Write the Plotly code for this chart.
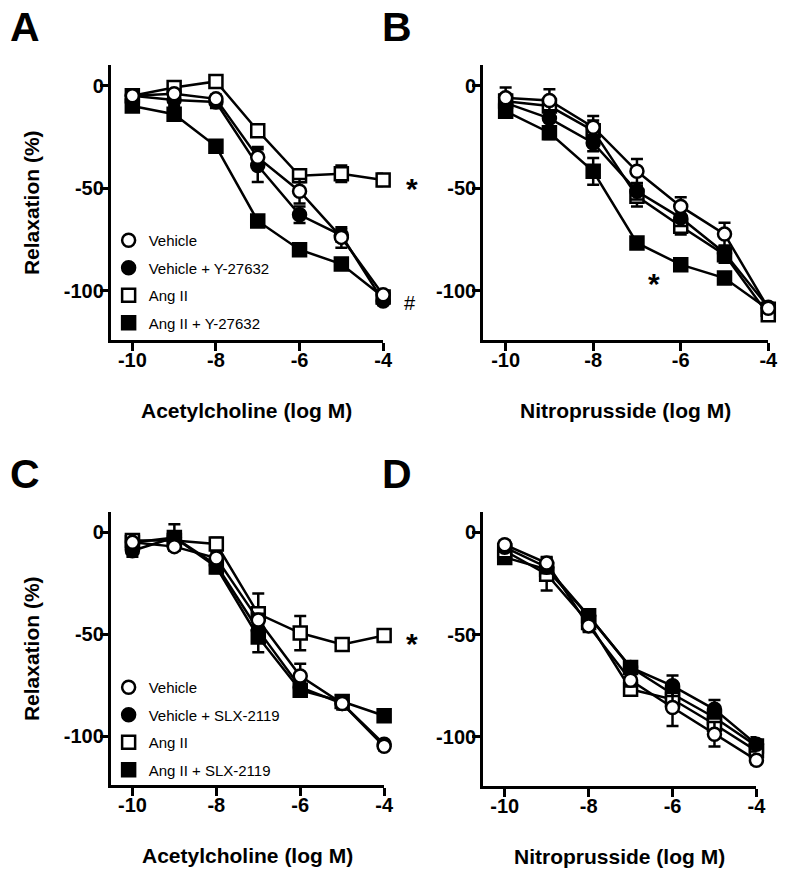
import plotly.graph_objects as go

# ---------------- data ----------------
log_conc = [-10, -9, -8, -7, -6, -5, -4]
x_tick_vals = [-10, -8, -6, -4]
x_tick_text = ["-10", "-8", "-6", "-4"]
y_tick_vals = [0, -50, -100]
y_tick_text = ["0", "-50", "-100"]

# Panel A: Acetylcholine, Y-27632
a_vehicle = [-5, -4, -6.5, -35, -51.5, -74, -102]
a_vehicle_err = [2, 2, 2, 5, 6, 5, 2]
a_vehicle_y = [-5, -7, -8, -39, -63, -73, -105]
a_vehicle_y_err = [2, 3, 3, 8, 4, 3, 2]
a_ang = [-5, -1, 2, -22, -44, -43, -46]
a_ang_err = [2, 3, 2, 3, 3, 4, 3]
a_ang_y = [-10, -14, -29.6, -66, -80, -87, -103]
a_ang_y_err = [2, 2, 2, 2, 2, 2, 2]

# Panel B: Nitroprusside, Y-27632
b_vehicle = [-6, -7.3, -20.3, -41.8, -58.9, -72.4, -108.5]
b_vehicle_err = [5, 5.5, 5.5, 6, 4.5, 5.5, 2]
b_vehicle_y = [-8.5, -16, -28, -51.5, -64.5, -81.6, -108]
b_vehicle_y_err = [3, 4, 4, 4, 4, 3, 2]
b_ang = [-7.6, -10, -22, -54, -68.6, -82.4, -111.7]
b_ang_err = [3, 4, 5, 5, 4, 4, 2]
b_ang_y = [-12.5, -23, -41.8, -76.7, -87.3, -93.8, -109]
b_ang_y_err = [3, 3, 6.5, 2, 2, 2, 2]

# Panel C: Acetylcholine, SLX-2119
c_vehicle = [-4.9, -7, -12.6, -43, -70.5, -84, -105]
c_vehicle_err = [2, 2, 3, 3, 6, 3, 2]
c_vehicle_s = [-9, -2.5, -16, -48, -76, -84, -104]
c_vehicle_s_err = [3, 6.5, 3, 3, 3, 2, 2]
c_ang = [-4, -4, -5.7, -40, -49.4, -55, -50.6]
c_ang_err = [2, 2, 3, 10, 8.4, 3, 3]
c_ang_s = [-5, -2.5, -17, -51.4, -77.5, -83, -90]
c_ang_s_err = [2, 2, 3, 7.5, 3, 2, 2]

# Panel D: Nitroprusside, SLX-2119
d_vehicle = [-6, -15, -45.7, -72.3, -85.6, -98.7, -111.4]
d_vehicle_err = [2, 3, 3, 3, 9, 6, 2]
d_vehicle_s = [-7.3, -17, -40.8, -66, -75, -86.5, -103.6]
d_vehicle_s_err = [2, 3, 3, 3, 5, 4.5, 3.5]
d_ang = [-9, -20.4, -44, -76.7, -81.6, -93.8, -106.8]
d_ang_err = [3, 8, 4, 3, 3, 3, 2]
d_ang_s = [-12.2, -18, -40.8, -66, -79, -90.5, -104.4]
d_ang_s_err = [3, 3, 3, 3, 3, 3, 3]

labels_y = ["Vehicle", "Vehicle + Y-27632", "Ang II", "Ang II + Y-27632"]
labels_s = ["Vehicle", "Vehicle + SLX-2119", "Ang II", "Ang II + SLX-2119"]
panel_letters = ["A", "B", "C", "D"]
x_titles = ["Acetylcholine (log M)", "Nitroprusside (log M)",
            "Acetylcholine (log M)", "Nitroprusside (log M)"]
y_title = "Relaxation (%)"

# ---------------- styling ----------------
W, H = 800, 875


def px(x):
    return x / W


def py(y):
    return 1 - y / H


FONT = "Liberation Sans, Arial, sans-serif"
styles = [
    dict(symbol="circle", color="white"),
    dict(symbol="circle", color="black"),
    dict(symbol="square", color="white"),
    dict(symbol="square", color="black"),
]
MSIZE = 13
LW = 2.5

# panel boxes in window pixels: (left, right, top, bottom)
boxes = [(112, 388, 65, 340), (489, 778, 65, 340),
         (112, 389, 512, 785), (489, 766, 512, 786)]

fig = go.Figure()

panels = [
    ([a_vehicle, a_vehicle_y, a_ang, a_ang_y],
     [a_vehicle_err, a_vehicle_y_err, a_ang_err, a_ang_y_err], labels_y, "legend"),
    ([b_vehicle, b_vehicle_y, b_ang, b_ang_y],
     [b_vehicle_err, b_vehicle_y_err, b_ang_err, b_ang_y_err], labels_y, None),
    ([c_vehicle, c_vehicle_s, c_ang, c_ang_s],
     [c_vehicle_err, c_vehicle_s_err, c_ang_err, c_ang_s_err], labels_s, "legend2"),
    ([d_vehicle, d_vehicle_s, d_ang, d_ang_s],
     [d_vehicle_err, d_vehicle_s_err, d_ang_err, d_ang_s_err], labels_s, None),
]

for p, (series, errs, labels, leg) in enumerate(panels):
    xa = "x" if p == 0 else f"x{p+1}"
    ya = "y" if p == 0 else f"y{p+1}"
    if leg is not None:
        for i in range(4):
            st = styles[i]
            fig.add_trace(go.Scatter(
                x=[None], y=[None], mode="markers", name=labels[i],
                xaxis=xa, yaxis=ya, legend=leg, legendgroup=f"{leg}{i}",
                marker=dict(symbol=st["symbol"], size=MSIZE, color=st["color"],
                            line=dict(color="black", width=LW)),
                showlegend=True))
    for i in [3, 2, 1, 0]:
        st = styles[i]
        fig.add_trace(go.Scatter(
            x=log_conc, y=series[i], mode="lines+markers", name=labels[i],
            xaxis=xa, yaxis=ya, showlegend=False, cliponaxis=False,
            line=dict(color="black", width=LW),
            marker=dict(symbol=st["symbol"], size=MSIZE, color=st["color"],
                        line=dict(color="black", width=LW)),
            error_y=dict(type="data", array=errs[i], visible=True,
                         color="black", thickness=LW, width=6)))

layout = dict(
    width=W, height=H,
    margin=dict(l=0, r=0, t=0, b=0),
    paper_bgcolor="white", plot_bgcolor="white",
    font=dict(family=FONT, color="black"),
    showlegend=True,
)

annotations = []
for p, (l, r, t, b) in enumerate(boxes):
    sx = "" if p == 0 else str(p + 1)
    layout[f"xaxis{sx}"] = dict(
        domain=[px(l), px(r)], range=[-10.52, -4], anchor=f"y{sx}",
        tickvals=x_tick_vals, ticktext=x_tick_text,
        showline=True, linewidth=LW, linecolor="black",
        ticks="outside", ticklen=8, tickwidth=LW, tickcolor="black",
        ticklabelstandoff=-8,
        showgrid=False, zeroline=False,
        tickfont=dict(family=FONT, size=20, color="black", weight="bold"))
    layout[f"yaxis{sx}"] = dict(
        domain=[py(b), py(t)], range=[-124, 10], anchor=f"x{sx}",
        tickvals=y_tick_vals, ticktext=y_tick_text,
        showline=True, linewidth=LW, linecolor="black",
        ticks="outside", ticklen=8, tickwidth=LW, tickcolor="black",
        ticklabelstandoff=-8,
        showgrid=False, zeroline=False,
        tickfont=dict(family=FONT, size=20, color="black", weight="bold"))
    annotations.append(dict(
        x=px((l + r) / 2), y=py(b + 70), xref="paper", yref="paper",
        text=x_titles[p], showarrow=False, xanchor="center", yanchor="middle",
        font=dict(family=FONT, size=21, color="black", weight="bold")))
    annotations.append(dict(
        x=px(l - 87), y=py(t - 38), xref="paper", yref="paper",
        text=panel_letters[p], showarrow=False, xanchor="center", yanchor="middle",
        font=dict(family=FONT, size=41, color="black", weight="bold")))
    if p in (0, 2):
        annotations.append(dict(
            x=px(32), y=py((t + b) / 2), xref="paper", yref="paper",
            text=y_title, textangle=-90, showarrow=False,
            xanchor="center", yanchor="middle",
            font=dict(family=FONT, size=21, color="black", weight="bold")))

star_font = dict(family=FONT, size=30, color="black", weight="bold")
for sx_, sy_ in [(417, 188), (662, 283), (417, 643)]:
    annotations.append(dict(x=px(sx_), y=py(sy_), xref="paper", yref="paper",
                            text="*", showarrow=False, xanchor="center",
                            yanchor="middle", font=star_font))
annotations.append(dict(x=px(415), y=py(303), xref="paper", yref="paper",
                        text="#", showarrow=False, xanchor="center",
                        yanchor="middle",
                        font=dict(family=FONT, size=20, color="black")))
layout["annotations"] = annotations

leg_common = dict(xref="paper", yref="paper", xanchor="left", yanchor="top",
                  bgcolor="rgba(0,0,0,0)", borderwidth=0, tracegroupgap=5,
                  itemsizing="trace",
                  font=dict(family=FONT, size=15, color="black"))
layout["legend"] = dict(x=px(110), y=py(224), **leg_common)
layout["legend2"] = dict(x=px(110), y=py(671), **leg_common)

fig.update_layout(**layout)
fig.write_html("out.html",
               config={"displayModeBar": False},
               post_script="document.body.style.margin='0';"
                           "document.body.style.padding='0';")
